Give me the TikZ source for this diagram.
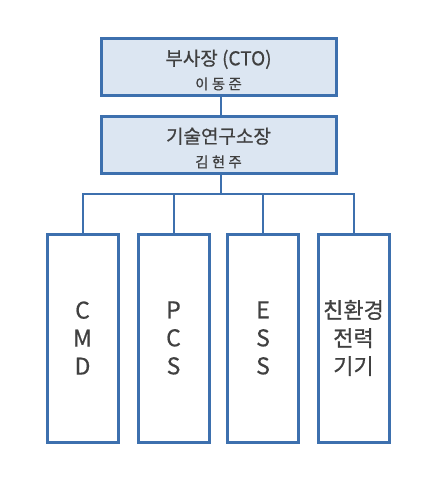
\documentclass[tikz,border=0pt]{standalone}
\usepackage{fontspec}
\setmainfont{Noto Sans CJK KR}[FakeBold=0.6]
\definecolor{bordc}{HTML}{3D70AE}
\definecolor{fillc}{HTML}{DCE6F2}
\definecolor{txtc}{HTML}{404040}
\begin{document}
\begin{tikzpicture}[x=1pt,y=-1pt,
  topbox/.style={draw=bordc,line width=3pt,fill=fillc,minimum width=235pt,minimum height=57pt,inner sep=0pt,align=center,text=txtc,font=\fontsize{19}{24}\selectfont},
  subbox/.style={draw=bordc,line width=3pt,fill=white,minimum width=71pt,minimum height=208pt,inner sep=0pt,align=center,text=txtc,font=\fontsize{23}{28}\selectfont},
  link/.style={draw=bordc,line width=2pt}]
\useasboundingbox (0,0) rectangle (443,477);
\node[topbox] (cto) at (218.5,67) {\raisebox{-3pt}[\height][\depth]{부사장 (CTO)}\\{\fontsize{14.5}{24}\selectfont\raisebox{-3pt}[\height][\depth]{이 동 준}}};
\node[topbox] (lab) at (218.5,145) {\raisebox{-3pt}[\height][\depth]{기술연구소장}\\{\fontsize{14.5}{24}\selectfont\raisebox{-3pt}[\height][\depth]{김 현 주}}};
\node[subbox] (cmd) at (82.5,338) {C\\M\\D};
\node[subbox] (pcs) at (173.5,338) {P\\C\\S};
\node[subbox] (ess) at (263,338) {E\\S\\S};
\node[subbox] (eco) at (353.5,338) {{\fontsize{22}{28}\selectfont 친환경}\\{\fontsize{22}{28}\selectfont 전력}\\{\fontsize{22}{28}\selectfont 기기}};
\coordinate (bus) at (221,194);
\draw[link] (cto.south -| bus) -- (lab.north -| bus);
\draw[link] (lab.south -| bus) -- (bus);
\draw[link] (cmd.north) -- (cmd.north |- bus) -- (eco.north |- bus) -- (eco.north);
\draw[link] (pcs.north) -- (pcs.north |- bus);
\draw[link] (ess.north) -- (ess.north |- bus);
\end{tikzpicture}
\end{document}
